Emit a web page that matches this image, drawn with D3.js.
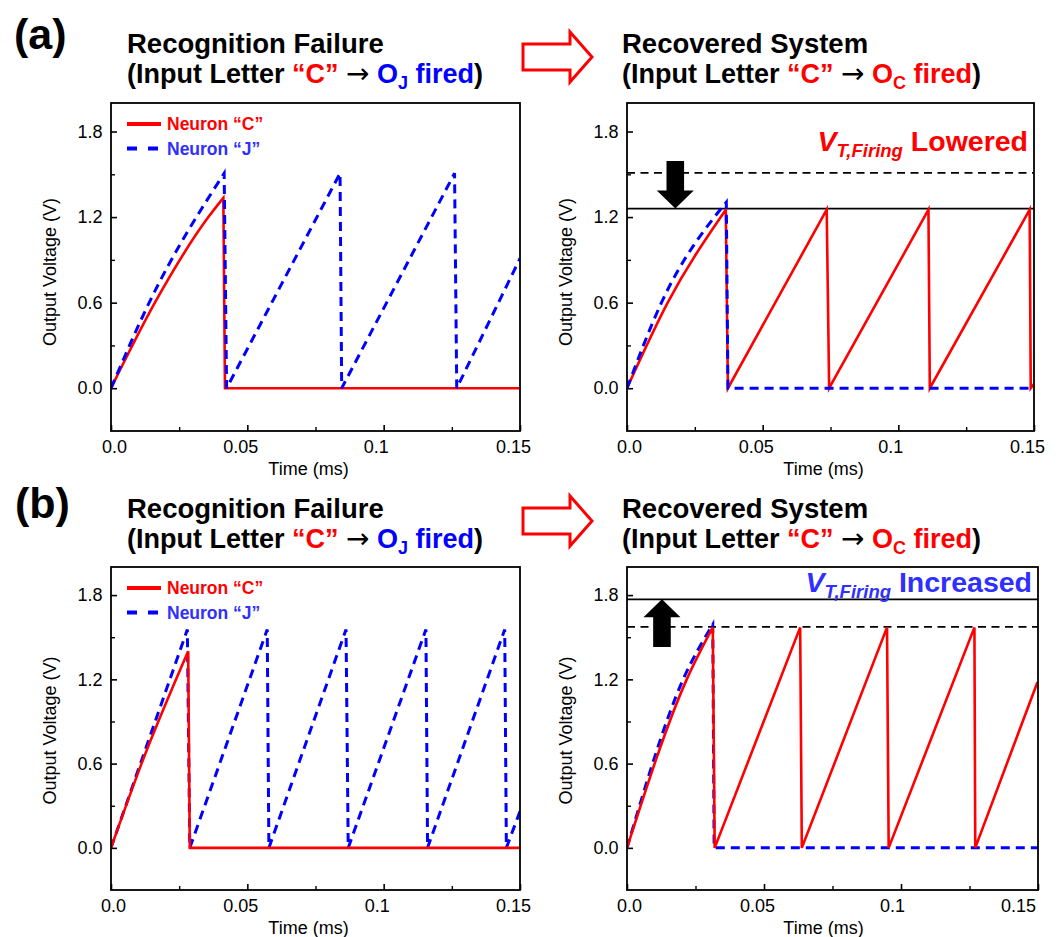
<!DOCTYPE html>
<html><head><meta charset="utf-8">
<script src="https://cdn.jsdelivr.net/npm/d3@7"></script>
<style>
body{margin:0;background:#fff}
svg{display:block}
text{font-family:"Liberation Sans",Arial,Helvetica,sans-serif}
</style>
</head><body>
<svg id="c" width="1061" height="937"></svg>
<script>
// ---------------- DATA ----------------
const xTickValues = [0, 0.05, 0.1, 0.15];
const xTickLabels = ["0.0", "0.05", "0.1", "0.15"];
const xMinorTicks = [0.025, 0.075, 0.125];
const yTickValues = [0, 0.6, 1.2, 1.8];
const yTickLabels = ["0.0", "0.6", "1.2", "1.8"];
const yMinorTicks = [0.3, 0.9, 1.5];
const xDomain = [0, 0.15];
const yDomain = [-0.3, 2.0];
const xAxisTitle = "Time (ms)";
const yAxisTitle = "Output Voltage (V)";
const legendLabels = ["Neuron \u201CC\u201D", "Neuron \u201CJ\u201D"];

// (a) left : Recognition failure
const aL_C_t = [0, 0.0161, 0.0357, 0.0412, 0.0418, 0.15];
const aL_C_v = [0, 0.6, 1.2, 1.335, 0, 0];
const aL_J_t = [0, 0.0140, 0.0415, 0.0424,
                0.0840, 0.0846,
                0.1260, 0.1268,
                0.15];
const aL_J_v = [0, 0.6, 1.507, 0,
                1.507, 0,
                1.507, 0,
                0.91];

// (a) right : V_T,Firing lowered
const aR_C_t = [0, 0.0150, 0.0364, 0.0372,
                0.0736, 0.0745,
                0.1111, 0.1116,
                0.1484, 0.1488, 0.15];
const aR_C_v = [0, 0.6, 1.252, 0,
                1.252, 0,
                1.252, 0,
                1.252, 0, 0.03];
const aR_J_t = [0, 0.0127, 0.0366, 0.0372, 0.15];
const aR_J_v = [0, 0.6, 1.305, 0, 0];
const aR_thresholdOld = 1.51;
const aR_thresholdNew = 1.26;
const aR_arrow = {t: 0.0178, from: 1.593, to: 1.26};

// (b) left : Recognition failure
const bL_C_t = [0, 0.0112, 0.0283, 0.0289, 0.15];
const bL_C_v = [0, 0.6, 1.40, 0, 0];
const bL_J_t = [0, 0.0280, 0.0289,
                0.0573, 0.0579,
                0.0862, 0.0870,
                0.1155, 0.1161,
                0.1444, 0.1450, 0.15];
const bL_J_v = [0, 1.555, 0,
                1.555, 0,
                1.555, 0,
                1.555, 0,
                1.555, 0, 0.26];

// (b) right : V_T,Firing increased
const bR_C_t = [0, 0.0218, 0.0313, 0.0320,
                0.0632, 0.0638,
                0.0949, 0.0955,
                0.1268, 0.1271,
                0.1498];
const bR_C_v = [0, 1.2, 1.57, 0,
                1.57, 0,
                1.57, 0,
                1.57, 0,
                1.18];
const bR_J_t = [0, 0.0205, 0.0313, 0.0318, 0.15];
const bR_J_v = [0, 1.2, 1.59, 0, 0];
const bR_thresholdOld = 1.574;
const bR_thresholdNew = 1.77;
const bR_arrow = {t: 0.01276, from: 1.43, to: 1.77};

// ---------------- STYLE / LAYOUT ----------------
const RED = "#ff0000", BLUE = "#0000ff", LBLUE = "#2f2fff";
const svg = d3.select("#c");
const defs = svg.append("defs");

// smooth ramps (monotone) joined by straight resets, as one continuous path
function sawPath(pts, x, y) {
  const runs = [];
  let cur = [pts[0]];
  for (let i = 1; i < pts.length; i++) {
    if (pts[i][1] >= pts[i - 1][1]) cur.push(pts[i]);
    else { runs.push(cur); cur = [pts[i]]; }
  }
  runs.push(cur);
  const curve = d3.line().x(d => x(d[0])).y(d => y(d[1])).curve(d3.curveMonotoneX);
  let s = `M${x(pts[0][0])},${y(pts[0][1])}`;
  runs.forEach((r, k) => {
    if (k > 0) s += `L${x(r[0][0])},${y(r[0][1])}`;
    if (r.length > 1) s += curve(r).replace(/^M[^CLZ]*/, "");
  });
  return s;
}

function drawPanel(p) {
  const x = d3.scaleLinear().domain(xDomain).range([p.left, p.right]);
  const y = d3.scaleLinear().domain(yDomain).range([p.bottom, p.top]);
  const g = svg.append("g");
  const clipId = "clip-" + p.id;
  defs.append("clipPath").attr("id", clipId).append("rect")
    .attr("x", p.left).attr("y", p.top)
    .attr("width", p.right - p.left).attr("height", p.bottom - p.top);

  // axes (ticks pointing inward)
  const xa = g.append("g").attr("transform", `translate(0,${p.bottom})`)
    .call(d3.axisBottom(x).tickValues(xTickValues).tickSize(-6).tickSizeOuter(0)
      .tickPadding(9.5).tickFormat((d, i) => xTickLabels[i]));
  xa.select(".domain").remove();
  xa.selectAll("text").attr("font-size", 18).attr("font-family", "Liberation Sans, Arial, sans-serif")
    .attr("fill", "#000").attr("dx", (d, i) => p.xLabelDx[i]);
  xa.selectAll("line").attr("stroke", "#000").attr("stroke-width", 1.6);
  const xm = g.append("g").attr("transform", `translate(0,${p.bottom})`)
    .call(d3.axisBottom(x).tickValues(xMinorTicks).tickSize(-4).tickSizeOuter(0).tickFormat(""));
  xm.select(".domain").remove();
  xm.selectAll("line").attr("stroke", "#000").attr("stroke-width", 1.4);

  const ya = g.append("g").attr("transform", `translate(${p.left},0)`)
    .call(d3.axisLeft(y).tickValues(yTickValues).tickSize(-6).tickSizeOuter(0)
      .tickPadding(8.5).tickFormat((d, i) => yTickLabels[i]));
  ya.select(".domain").remove();
  ya.selectAll("text").attr("font-size", 18).attr("font-family", "Liberation Sans, Arial, sans-serif").attr("fill", "#000");
  ya.selectAll("line").attr("stroke", "#000").attr("stroke-width", 1.6);
  const ym = g.append("g").attr("transform", `translate(${p.left},0)`)
    .call(d3.axisLeft(y).tickValues(yMinorTicks).tickSize(-4).tickSizeOuter(0).tickFormat(""));
  ym.select(".domain").remove();
  ym.selectAll("line").attr("stroke", "#000").attr("stroke-width", 1.4);

  // axis titles
  g.append("text").attr("x", (p.left + p.right) / 2 + p.xTitleDx).attr("y", p.bottom + 43.5)
    .attr("text-anchor", "middle").attr("font-size", 18).text(xAxisTitle);
  g.append("text").attr("transform", `translate(${p.left - 55.5},${(p.top + p.bottom) / 2 + p.yTitleDy}) rotate(-90)`)
    .attr("text-anchor", "middle").attr("font-size", 18).text(yAxisTitle);

  const plot = g.append("g").attr("clip-path", `url(#${clipId})`);

  // thresholds
  if (p.thrOld !== undefined) {
    plot.append("line").attr("x1", p.left).attr("x2", p.right)
      .attr("y1", y(p.thrOld)).attr("y2", y(p.thrOld))
      .attr("stroke", "#000").attr("stroke-width", 1.6).attr("stroke-dasharray", "8,5.5");
    plot.append("line").attr("x1", p.left).attr("x2", p.right)
      .attr("y1", y(p.thrNew)).attr("y2", y(p.thrNew))
      .attr("stroke", "#000").attr("stroke-width", 1.8);
  }

  const drawC = () => plot.append("path").attr("d", sawPath(d3.zip(p.cT, p.cV), x, y))
    .attr("fill", "none").attr("stroke", RED).attr("stroke-width", 2.6).attr("stroke-linejoin", "miter");
  const drawJ = () => plot.append("path").attr("d", sawPath(d3.zip(p.jT, p.jV), x, y))
    .attr("fill", "none").attr("stroke", BLUE).attr("stroke-width", 3).attr("stroke-dasharray", "9,6");
  if (p.blueOnTop) { drawC(); drawJ(); } else { drawJ(); drawC(); }

  // thick black arrow
  if (p.arrow) {
    const ax = x(p.arrow.t), y0 = y(p.arrow.from), y1 = y(p.arrow.to);
    const dir = y1 > y0 ? 1 : -1;
    const hh = 18, hw = 18.5, sw = 8.8;
    const yb = y1 - dir * hh;
    const pts = [[ax - sw, y0], [ax + sw, y0], [ax + sw, yb], [ax + hw, yb], [ax, y1], [ax - hw, yb], [ax - sw, yb]];
    g.append("path").attr("d", "M" + pts.map(q => q.join(",")).join("L") + "Z").attr("fill", "#000");
  }

  // annotation
  if (p.note) {
    const t = g.append("text").attr("x", p.right - 6).attr("y", p.note.y).attr("text-anchor", "end")
      .attr("fill", p.note.color).attr("font-weight", "bold");
    t.append("tspan").attr("font-size", 28.5).attr("font-style", "italic").text("V");
    t.append("tspan").attr("font-size", 18.5).attr("font-style", "italic").attr("dy", 6).text("T,Firing");
    t.append("tspan").attr("font-size", 28.5).attr("dy", -6).text("\u00A0" + p.note.word);
  }

  // legend
  if (p.legend) {
    const ly1 = p.top + 21, ly2 = p.top + 45.5;
    g.append("line").attr("x1", p.left + 16).attr("x2", p.left + 50).attr("y1", ly1).attr("y2", ly1)
      .attr("stroke", RED).attr("stroke-width", 4.2);
    g.append("line").attr("x1", p.left + 16).attr("x2", p.left + 50).attr("y1", ly2).attr("y2", ly2)
      .attr("stroke", BLUE).attr("stroke-width", 4.2).attr("stroke-dasharray", "10,11");
    g.append("text").attr("x", p.left + 56).attr("y", ly1 + 6).attr("font-size", 17.5).attr("font-weight", "bold")
      .attr("fill", RED).text(legendLabels[0]);
    g.append("text").attr("x", p.left + 56).attr("y", ly2 + 6).attr("font-size", 17.5).attr("font-weight", "bold")
      .attr("fill", LBLUE).text(legendLabels[1]);
  }

  // frame
  g.append("rect").attr("x", p.left).attr("y", p.top).attr("width", p.right - p.left).attr("height", p.bottom - p.top)
    .attr("fill", "none").attr("stroke", "#000").attr("stroke-width", 1.8);
}

function drawTitle(x, yb, recovered) {
  svg.append("text").attr("x", x).attr("y", yb).attr("font-size", 27.5).attr("font-weight", "bold")
    .text(recovered ? "Recovered System" : "Recognition Failure");
  const col = recovered ? RED : BLUE;
  const t = svg.append("text").attr("x", x).attr("y", yb + 30).attr("font-size", 27).attr("font-weight", "bold");
  t.append("tspan").text("(Input Letter ");
  t.append("tspan").attr("fill", RED).text("\u201CC\u201D");
  t.append("tspan").text(" ");
  t.append("tspan").attr("font-weight", "normal").attr("font-family", "DejaVu Sans").attr("font-size", 28).text("\u2192");
  t.append("tspan").text(" ");
  t.append("tspan").attr("fill", col).text("O");
  t.append("tspan").attr("fill", col).attr("font-size", 18).attr("dy", 6).text(recovered ? "C" : "J");
  t.append("tspan").attr("fill", col).attr("dy", -6).text(" fired");
  t.append("tspan").text(")");
}

function drawHollowArrow(x0, cy) {
  const pts = [[x0, cy - 13], [x0 + 47, cy - 13], [x0 + 47, cy - 25], [x0 + 69, cy], [x0 + 47, cy + 25],
               [x0 + 47, cy + 13], [x0, cy + 13]];
  svg.append("path").attr("d", "M" + pts.map(q => q.join(",")).join("L") + "Z")
    .attr("fill", "#fff").attr("stroke", RED).attr("stroke-width", 3).attr("stroke-linejoin", "miter");
}

// row labels & titles
svg.append("text").attr("x", 14).attr("y", 49).attr("font-size", 43).attr("font-weight", "bold").text("(a)");
svg.append("text").attr("x", 15).attr("y", 518).attr("font-size", 43).attr("font-weight", "bold").text("(b)");
drawTitle(127, 53, false);
drawTitle(622, 53, true);
drawTitle(127, 518, false);
drawTitle(622, 518, true);
drawHollowArrow(523, 57);
drawHollowArrow(523, 521);

drawPanel({id: "aL", left: 111, right: 520, top: 103, bottom: 431, xLabelDx: [3, -7, -8, -7],
  xTitleDx: -7, yTitleDy: 5, cT: aL_C_t, cV: aL_C_v, jT: aL_J_t, jV: aL_J_v, blueOnTop: true, legend: true});
drawPanel({id: "aR", left: 627, right: 1034, top: 103, bottom: 431, xLabelDx: [2, -7, -8, -7],
  xTitleDx: -7, yTitleDy: 5, cT: aR_C_t, cV: aR_C_v, jT: aR_J_t, jV: aR_J_v, blueOnTop: true,
  thrOld: aR_thresholdOld, thrNew: aR_thresholdNew, arrow: aR_arrow,
  note: {y: 151, color: RED, word: "Lowered"}});
drawPanel({id: "bL", left: 111, right: 520, top: 567, bottom: 890, xLabelDx: [2, -7, -7, -7],
  xTitleDx: -7, yTitleDy: 2, cT: bL_C_t, cV: bL_C_v, jT: bL_J_t, jV: bL_J_v, blueOnTop: false, legend: true});
drawPanel({id: "bR", left: 627, right: 1038, top: 567, bottom: 890, xLabelDx: [2, -7, -9, -20],
  xTitleDx: -9, yTitleDy: 2, cT: bR_C_t, cV: bR_C_v, jT: bR_J_t, jV: bR_J_v, blueOnTop: false,
  thrOld: bR_thresholdOld, thrNew: bR_thresholdNew, arrow: bR_arrow,
  note: {y: 592, color: LBLUE, word: "Increased"}});
</script>
</body></html>
